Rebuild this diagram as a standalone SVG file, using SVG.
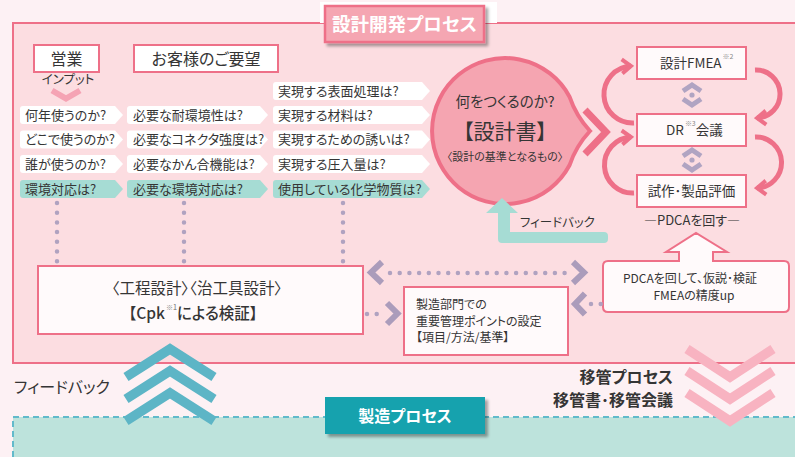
<svg xmlns="http://www.w3.org/2000/svg" width="795" height="457" viewBox="0 0 795 457">
<style>
text{font-family:"Noto Sans CJK JP","Noto Sans",sans-serif;fill:#353535;font-feature-settings:"palt";}
.tag{font-size:13px;}
.w{fill:#fff;stroke:#ee7088;stroke-width:2;}
.wt{fill:#fffafb;stroke:#ee7088;stroke-width:2;}
.tw{fill:#fff;}
.tt{fill:#a6dcd4;}
.dots{fill:none;stroke:#b0a2c0;stroke-width:4.5;stroke-linecap:round;stroke-dasharray:0 9.7;}
.chev{fill:none;stroke:#ab9cbb;stroke-width:6;}
.arc{fill:none;stroke:#ee7088;stroke-width:5;}
.sup{font-size:7px;fill:#8a8a8a;}
</style>
<defs>
<filter id="sh" x="-10%" y="-20%" width="130%" height="160%">
<feDropShadow dx="3" dy="3" stdDeviation="1.8" flood-color="#000" flood-opacity="0.35"/>
</filter>
<path id="t1" d="M23,0H115L123,9L115,18H23Q20,18 20,15V3Q20,0 23,0Z"/>
<path id="t2" d="M130,0H260L268,9L260,18H130Q127,18 127,15V3Q127,0 130,0Z"/>
<path id="t3" d="M276,0H422L430,9L422,18H276Q273,18 273,15V3Q273,0 276,0Z"/>
<marker id="ah" markerUnits="userSpaceOnUse" viewBox="-12 -9 15 18" refX="0" refY="0" markerWidth="15" markerHeight="18" orient="auto">
<path d="M-9,-7L0,0L-9,7" fill="none" stroke="#ee7088" stroke-width="4"/>
</marker>
<g id="dia">
<polyline points="683,-4 692,-10 701,-4" fill="none" stroke="#b0a4c2" stroke-width="5"/>
<circle cx="692" cy="0" r="2.6" fill="#b0a4c2"/>
<polyline points="683,4 692,10 701,4" fill="none" stroke="#b0a4c2" stroke-width="5"/>
</g>
</defs>

<rect x="0" y="0" width="795" height="457" fill="#fdf1f4"/>

<!-- main design process area -->
<rect x="13" y="23" width="800" height="340" fill="#fcdde1" stroke="#ee7088" stroke-width="2"/>

<!-- manufacturing area -->
<rect x="13" y="417" width="800" height="60" fill="#bde3dc" stroke="#62bacb" stroke-width="2" stroke-dasharray="6 4"/>

<!-- title -->
<g id="title">
<rect x="320" y="2" width="177" height="21" fill="#ffffff"/>
<rect x="325" y="6" width="159" height="36" fill="#f5a6b2" stroke="#ee7088" stroke-width="2.5" filter="url(#sh)"/>
<text x="404.5" y="31" text-anchor="middle" style="font-size:18.5px;font-weight:bold;fill:#fff">設計開発プロセス</text>
</g>

<!-- headers -->
<g id="eigyo">
<rect class="w" x="34" y="45" width="65" height="27"/>
<text x="66.5" y="64.5" text-anchor="middle" style="font-size:16px">営業</text>
<text x="68" y="84" text-anchor="middle" style="font-size:12.5px">インプット</text>
<polyline points="52,90.5 66,98.5 80,90.5" fill="none" stroke="#f5a3b4" stroke-width="6"/>
</g>
<g id="customer">
<rect class="w" x="134" y="45" width="144" height="27"/>
<text x="206" y="64.5" text-anchor="middle" style="font-size:16px">お客様のご要望</text>
</g>

<!-- tag column 1 -->
<g id="col1">
<use href="#t1" y="106" class="tw"/><text class="tag" x="25" y="119.5">何年使うのか?</text>
<use href="#t1" y="130.5" class="tw"/><text class="tag" x="25" y="144">どこで使うのか?</text>
<use href="#t1" y="155" class="tw"/><text class="tag" x="25" y="168.5">誰が使うのか?</text>
<use href="#t1" y="180" class="tt"/><text class="tag" x="25" y="193.5">環境対応は?</text>
</g>
<g id="col2">
<use href="#t2" y="106" class="tw"/><text class="tag" x="133" y="119.5">必要な耐環境性は?</text>
<use href="#t2" y="130.5" class="tw"/><text class="tag" x="133" y="144">必要なコネクタ強度は?</text>
<use href="#t2" y="155" class="tw"/><text class="tag" x="133" y="168.5">必要なかん合機能は?</text>
<use href="#t2" y="180" class="tt"/><text class="tag" x="133" y="193.5">必要な環境対応は?</text>
</g>
<g id="col3">
<use href="#t3" y="82" class="tw"/><text class="tag" x="278" y="95.5">実現する表面処理は?</text>
<use href="#t3" y="106" class="tw"/><text class="tag" x="278" y="119.5">実現する材料は?</text>
<use href="#t3" y="130.5" class="tw"/><text class="tag" x="278" y="144">実現するための誘いは?</text>
<use href="#t3" y="155" class="tw"/><text class="tag" x="278" y="168.5">実現する圧入量は?</text>
<use href="#t3" y="180" class="tt"/><text class="tag" x="278" y="193.5">使用している化学物質は?</text>
</g>

<!-- design doc bubble -->
<g id="sekkeisho">
<path d="M569.5,96.7A73,73 0 1 0 569.5,165.3Q576,146 590,131Q576,116 569.5,96.7Z" fill="#f5a5b1" stroke="#ee7088" stroke-width="4"/>
<polyline points="585,110 606,132 585,154" fill="none" stroke="#ee7088" stroke-width="7"/>
<text x="505" y="107" text-anchor="middle" style="font-size:14.5px">何をつくるのか?</text>
<text x="505" y="138.5" text-anchor="middle" style="font-size:21px">【設計書】</text>
<text x="505" y="161" text-anchor="middle" style="font-size:11px">〈設計の基準となるもの〉</text>
</g>

<!-- feedback arrow (top) -->
<g id="feedback1">
<path d="M486,213L502,198L518,213H510V232H604Q608,232 608,236V239Q608,243 604,243H502Q498,243 498,239V213Z" fill="#a6dcd4"/>
<text x="520" y="226.5" style="font-size:12.5px">フィードバック</text>
</g>

<!-- PDCA cycle -->
<g id="fmea">
<rect class="wt" x="637" y="47" width="109" height="32"/>
<text x="660" y="68" style="font-size:13.5px">設計FMEA<tspan class="sup" dx="1" dy="-9">※2</tspan></text>
</g>
<g id="dr">
<rect class="wt" x="637" y="114" width="109" height="32"/>
<text x="666" y="135" style="font-size:13.5px">DR<tspan class="sup" dx="1" dy="-9">※3</tspan><tspan dy="9">会議</tspan></text>
</g>
<g id="shisaku">
<rect class="wt" x="637" y="175" width="109" height="32"/>
<text x="691.5" y="196" text-anchor="middle" style="font-size:13.5px">試作･製品評価</text>
</g>
<text x="692" y="225" text-anchor="middle" style="font-size:13px">―PDCAを回す―</text>

<!-- process design box -->
<g id="koutei">
<rect x="38" y="266" width="325" height="68" fill="#fffafb" stroke="#ee7088" stroke-width="2"/>
<text x="197" y="294" text-anchor="middle" style="font-size:15.5px">〈工程設計〉〈治工具設計〉</text>
<text x="193" y="318.5" text-anchor="middle" style="font-size:15.5px;font-weight:500">【Cpk<tspan class="sup" dx="1" dy="-9">※1</tspan><tspan dy="9">による検証】</tspan></text>
</g>

<!-- manufacturing dept box -->
<g id="seizoubumon">
<rect x="404" y="287" width="164" height="68" fill="#fffafb" stroke="#ee7088" stroke-width="2"/>
<text x="416" y="309" style="font-size:12px">製造部門での</text>
<text x="416" y="325.5" style="font-size:12px">重要管理ポイントの設定</text>
<text x="416" y="342" style="font-size:12px">【項目/方法/基準】</text>
</g>

<!-- PDCA callout -->
<g id="pdca-note">
<path d="M608,261H679V252H666L696,233L727,252H713V261H784Q789,261 789,266V307Q789,312 784,312H608Q603,312 603,307V266Q603,261 608,261Z" fill="#fffafb" stroke="#ee7088" stroke-width="2"/>
<text x="690" y="282.5" text-anchor="middle" style="font-size:12px">PDCAを回して、仮説･検証</text>
<text x="694" y="300" text-anchor="middle" style="font-size:12px">FMEAの精度up</text>
</g>

<!-- connectors -->
<g id="connectors">
<line class="dots" x1="57" y1="203" x2="57" y2="262"/>
<line class="dots" x1="184" y1="203" x2="184" y2="262"/>
<line class="dots" x1="343" y1="203" x2="343" y2="262"/>
<line class="dots" x1="390" y1="273" x2="568" y2="273"/>
<polyline class="chev" points="382,262 371,272.5 382,283"/>
<polyline class="chev" points="573,262 584,272.5 573,283"/>
<line class="dots" x1="367" y1="314" x2="386" y2="314"/>
<polyline class="chev" points="387,303 397.5,313.5 387,324"/>
<line class="dots" x1="591" y1="304" x2="602" y2="304"/>
<polyline class="chev" points="585,293.5 575,304 585,314.5"/>
<use href="#dia" y="95"/>
<use href="#dia" y="160"/>
<path class="arc" d="M634,123A28,28 0 0 1 631,66" marker-end="url(#ah)"/>
<path class="arc" d="M634,193A28,28 0 0 1 631,137" marker-end="url(#ah)"/>
<path class="arc" d="M755,70A24,24 0 0 1 757,118" marker-end="url(#ah)"/>
<path class="arc" d="M755,137A25,25 0 0 1 757,188" marker-end="url(#ah)"/>
</g>

<!-- bottom feedback chevrons (teal, up) -->
<g id="feedback2">
<g fill="none" stroke="#5db5c6" stroke-width="9.5">
<polyline points="126,377 170,349 214,377"/>
<polyline points="126,399 170,371 214,399"/>
<polyline points="126,421 170,393 214,421"/>
</g>
<text x="14" y="392.5" style="font-size:16px">フィードバック</text>
</g>

<!-- transfer chevrons (pink, down) -->
<g id="transfer">
<g fill="none" stroke="#f8b3c1" stroke-width="9.5">
<polyline points="687,349 730,377 773,349"/>
<polyline points="687,371 730,399 773,371"/>
<polyline points="687,393 730,421 773,393"/>
</g>
<text x="673" y="383" text-anchor="end" style="font-size:16px;font-weight:bold">移管プロセス</text>
<text x="673" y="406" text-anchor="end" style="font-size:16px;font-weight:bold">移管書･移管会議</text>
</g>

<!-- manufacturing process label -->
<g id="seizou">
<rect x="325" y="397" width="160" height="37" fill="#13a2ae" filter="url(#sh)"/>
<text x="405" y="421.5" text-anchor="middle" style="font-size:16px;font-weight:bold;fill:#fff">製造プロセス</text>
</g>
</svg>
